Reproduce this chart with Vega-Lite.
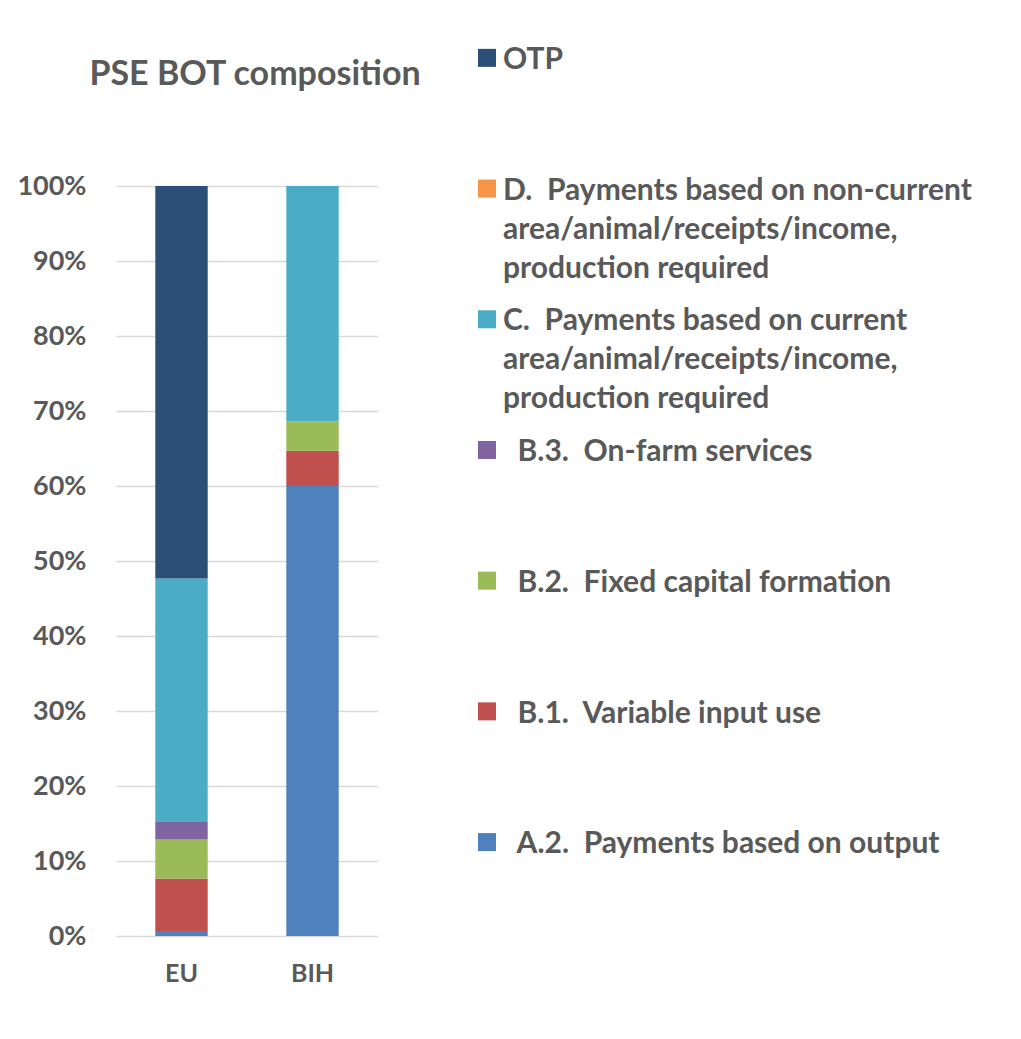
{
  "$schema": "https://vega.github.io/schema/vega-lite/v6.json",
  "autosize": {"type": "fit", "contains": "padding"},
  "width": 1021,
  "height": 1039,
  "padding": {"left": 16, "top": 58, "right": 643, "bottom": 53},
  "background": "white",
  "title": {
    "text": "PSE BOT composition",
    "anchor": "middle",
    "frame": "group",
    "dx": 8,
    "offset": 53,
    "baseline": "alphabetic",
    "font": "Lato",
    "fontSize": 34,
    "fontWeight": "bold",
    "color": "#595959"
  },
  "data": {
    "values": [
      {"country": "EU", "component": "\u200b\u00a0\u00a0A.2.\u00a0 Payments based on output", "ord": 1, "share": 0.0066},
      {"country": "EU", "component": "\u200b\u00a0\u00a0B.1.\u00a0 Variable input use", "ord": 2, "share": 0.070},
      {"country": "EU", "component": "\u200b\u00a0\u00a0B.2.\u00a0 Fixed capital formation", "ord": 3, "share": 0.052},
      {"country": "EU", "component": "\u200b\u00a0\u00a0B.3.\u00a0 On-farm services", "ord": 4, "share": 0.0235},
      {"country": "EU", "component": "C.\u00a0 Payments based on current|area/animal/receipts/income,|production required", "ord": 5, "share": 0.3245},
      {"country": "EU", "component": "OTP", "ord": 7, "share": 0.5234},
      {"country": "BIH", "component": "\u200b\u00a0\u00a0A.2.\u00a0 Payments based on output", "ord": 1, "share": 0.600},
      {"country": "BIH", "component": "\u200b\u00a0\u00a0B.1.\u00a0 Variable input use", "ord": 2, "share": 0.047},
      {"country": "BIH", "component": "\u200b\u00a0\u00a0B.2.\u00a0 Fixed capital formation", "ord": 3, "share": 0.039},
      {"country": "BIH", "component": "C.\u00a0 Payments based on current|area/animal/receipts/income,|production required", "ord": 5, "share": 0.314}
    ]
  },
  "mark": {"type": "bar"},
  "encoding": {
    "x": {
      "field": "country",
      "type": "nominal",
      "sort": ["EU", "BIH"],
      "scale": {"paddingInner": 0.6, "paddingOuter": 0.3},
      "axis": {
        "title": null,
        "labelAngle": 0,
        "domain": false,
        "ticks": false,
        "labelPadding": 25,
        "labelBaseline": "top",
        "labelFont": "Lato",
        "labelFontSize": 25,
        "labelFontWeight": "bold",
        "labelColor": "#595959"
      }
    },
    "y": {
      "field": "share",
      "type": "quantitative",
      "stack": "zero",
      "scale": {"domain": [0, 1], "nice": false},
      "axis": {
        "title": null,
        "values": [0, 0.1, 0.2, 0.3, 0.4, 0.5, 0.6, 0.7, 0.8, 0.9, 1],
        "format": ".0%",
        "domain": false,
        "ticks": false,
        "labelPadding": 30,
        "labelFont": "Lato",
        "labelFontSize": 27,
        "labelFontWeight": "bold",
        "labelColor": "#595959",
        "grid": true,
        "gridColor": "#d9d9d9",
        "gridWidth": 1.5
      }
    },
    "order": {"field": "ord", "type": "quantitative"},
    "color": {
      "field": "component",
      "type": "nominal",
      "scale": {
        "domain": [
          "OTP",
          "D.\u00a0 Payments based on non-current|area/animal/receipts/income,|production required",
          "C.\u00a0 Payments based on current|area/animal/receipts/income,|production required",
          "\u200b\u00a0\u00a0B.3.\u00a0 On-farm services",
          "\u200b\u00a0\u00a0B.2.\u00a0 Fixed capital formation",
          "\u200b\u00a0\u00a0B.1.\u00a0 Variable input use",
          "\u200b\u00a0\u00a0A.2.\u00a0 Payments based on output"
        ],
        "range": ["#2c4f77", "#f79646", "#4bacc6", "#8064a2", "#9bbb59", "#c0504d", "#4f81bd"]
      },
      "legend": {
        "title": null,
        "orient": "none",
        "legendX": 356,
        "legendY": -156,
        "direction": "vertical",
        "gridAlign": "all",
        "rowPadding": 7.7,
        "symbolType": "M-1,0.43H1V2.43H-1Z",
        "symbolSize": 324,
        "symbolStrokeWidth": 0,
        "symbolOpacity": 1,
        "labelOffset": 1,
        "labelBaseline": "top",
        "labelLimit": 0,
        "labelFont": "Lato",
        "labelFontSize": 30,
        "labelFontWeight": "bold",
        "labelColor": "#595959",
        "labelExpr": "split(datum.label, '|')"
      }
    }
  },
  "config": {
    "view": {"stroke": null},
    "style": {"guide-label": {"lineHeight": 39}}
  }
}
